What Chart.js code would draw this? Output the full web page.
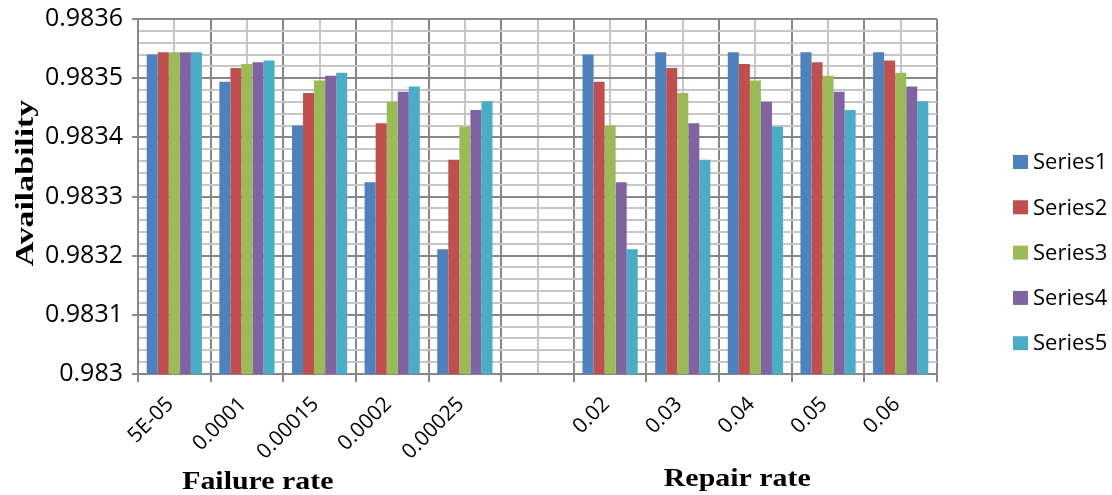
<!DOCTYPE html>
<html>
<head>
<meta charset="utf-8">
<script src="https://cdn.jsdelivr.net/npm/chart.js@4.4.1/dist/chart.umd.min.js"></script>
<style>
  html, body { margin: 0; padding: 0; background: #ffffff; }
  #wrap { width: 1112px; height: 495px; }
</style>
</head>
<body>
<div id="wrap"><canvas id="chart" width="1112" height="495"></canvas></div>
<script>
// Failure-rate and repair-rate sweeps, separated by an empty slot
const categories = ['5E-05', '0.0001', '0.00015', '0.0002', '0.00025', '', '0.02', '0.03', '0.04', '0.05', '0.06'];
const series1 = [0.983540, 0.983494, 0.983420, 0.983324, 0.983211, null, 0.983540, 0.983544, 0.983544, 0.983544, 0.983544];
const series2 = [0.983544, 0.983517, 0.983475, 0.983424, 0.983362, null, 0.983494, 0.983517, 0.983524, 0.983527, 0.983530];
const series3 = [0.983544, 0.983524, 0.983496, 0.983460, 0.983418, null, 0.983420, 0.983475, 0.983496, 0.983504, 0.983509];
const series4 = [0.983544, 0.983527, 0.983504, 0.983477, 0.983446, null, 0.983324, 0.983424, 0.983460, 0.983477, 0.983486];
const series5 = [0.983544, 0.983530, 0.983509, 0.983486, 0.983461, null, 0.983211, 0.983362, 0.983418, 0.983446, 0.983461];
const seriesNames = ['Series1', 'Series2', 'Series3', 'Series4', 'Series5'];
const seriesColors = ['#4F81BD', '#C0504D', '#9BBB59', '#8064A2', '#4BACC6'];
const yTickLabels = ['0.983', '0.9831', '0.9832', '0.9833', '0.9834', '0.9835', '0.9836'];
const yAxisTitle = 'Availability';
const groupTitles = ['Failure rate', 'Repair rate'];
const groupTitleAt = [1.15, 7.75];   // category positions the group titles are centred on

const MAJOR = '#878787';
const MINOR = '#c6c6c6';
const X_TICK_FONT = { family: '"Open Sans", sans-serif', size: 21 };
const Y_TICK_FONT = { family: '"Open Sans", sans-serif', size: 25 };
const TITLE_FONT = 'bold 26px "Liberation Serif", "Times New Roman", serif';

const allSeries = [series1, series2, series3, series4, series5];

// light vertical lines through each category centre, under the main grid
const minorColumns = {
  id: 'minorColumns',
  beforeDraw(chart) {
    const { ctx, chartArea, scales: { x } } = chart;
    ctx.save();
    ctx.strokeStyle = MINOR;
    ctx.lineWidth = 2;
    categories.forEach((_, i) => {
      const px = Math.round(x.getPixelForValue(i));
      ctx.beginPath();
      ctx.moveTo(px, chartArea.top);
      ctx.lineTo(px, chartArea.bottom);
      ctx.stroke();
    });
    ctx.restore();
  }
};

// bold serif text, widened a little along its reading direction
function wideText(ctx, text, x, y, angle, stretch) {
  ctx.save();
  ctx.translate(x, y);
  ctx.rotate(angle);
  ctx.scale(stretch, 1);
  ctx.fillText(text, 0, 0);
  ctx.restore();
}

// axis titles and the legend column on the right
const annotations = {
  id: 'annotations',
  afterDraw(chart) {
    const { ctx, chartArea, scales: { x } } = chart;
    ctx.save();
    ctx.fillStyle = '#000';
    ctx.font = TITLE_FONT;
    ctx.textAlign = 'center';
    ctx.textBaseline = 'alphabetic';
    wideText(ctx, groupTitles[0], x.getPixelForValue(groupTitleAt[0]), 489, 0, 1.15);
    wideText(ctx, groupTitles[1], x.getPixelForValue(groupTitleAt[1]), 486, 0, 1.15);
    wideText(ctx, yAxisTitle, 33, chartArea.top + 164, -Math.PI / 2, 1.3);

    ctx.font = '22px "Open Sans", sans-serif';
    ctx.textAlign = 'left';
    ctx.textBaseline = 'middle';
    const lx = chartArea.right + 76;
    const ly = chartArea.top + 143;
    seriesNames.forEach((name, i) => {
      const cy = ly + i * 45.3;
      ctx.fillStyle = seriesColors[i];
      ctx.fillRect(lx, cy - 7, 15, 14);
      ctx.fillStyle = '#000';
      ctx.fillText(name, lx + 20, cy + 1);
    });
    ctx.restore();
  }
};

new Chart(document.getElementById('chart'), {
  type: 'bar',
  data: {
    labels: categories,
    datasets: allSeries.map((data, i) => ({
      label: seriesNames[i],
      data,
      backgroundColor: seriesColors[i],
      borderWidth: 0,
      barPercentage: 1.0,
      categoryPercentage: 0.76
    }))
  },
  options: {
    responsive: false,
    animation: false,
    devicePixelRatio: 1,
    layout: { padding: { top: 19, right: 175, left: 0, bottom: 0 } },
    plugins: {
      legend: { display: false },
      tooltip: { enabled: false }
    },
    scales: {
      x: {
        offset: true,
        afterFit(scale) {
          scale.height = 121;
          scale.paddingLeft = 0;
          scale.paddingRight = 0;
        },
        grid: {
          offset: true,
          color: MAJOR,
          lineWidth: 2,
          tickLength: 8,
          tickColor: MAJOR
        },
        border: { display: true, color: MAJOR, width: 2 },
        ticks: {
          autoSkip: false,
          maxRotation: 45,
          minRotation: 45,
          padding: 10,
          labelOffset: -4,
          color: '#000',
          font: X_TICK_FONT
        }
      },
      y: {
        min: 0.983,
        max: 0.9836,
        afterFit(scale) {
          scale.width = 138;
          scale.paddingTop = 0;
          scale.paddingBottom = 0;
        },
        grid: {
          color: (c) => (c.index % 5 === 0 ? MAJOR : MINOR),
          lineWidth: 2,
          tickLength: 6,
          tickColor: (c) => (c.index % 5 === 0 ? MAJOR : 'rgba(0,0,0,0)')
        },
        border: { display: true, color: MAJOR, width: 2 },
        ticks: {
          stepSize: 0.00002,
          autoSkip: false,
          padding: 9,
          color: '#000',
          font: Y_TICK_FONT,
          callback: (value, index) => (index % 5 === 0 ? yTickLabels[index / 5] : '')
        }
      }
    }
  },
  plugins: [minorColumns, annotations]
});
</script>
</body>
</html>
